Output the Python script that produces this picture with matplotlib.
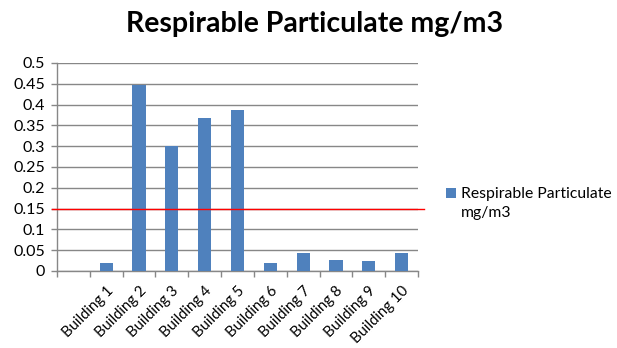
import matplotlib
matplotlib.use("Agg")
import matplotlib.pyplot as plt
from matplotlib.patches import Rectangle
import numpy as np

categories = ["", "Building 1", "Building 2", "Building 3", "Building 4", "Building 5",
              "Building 6", "Building 7", "Building 8", "Building 9", "Building 10"]
values = [np.nan, 0.020, 0.446, 0.301, 0.368, 0.387, 0.020, 0.043, 0.026, 0.023, 0.043]
threshold = 0.15
yticks = [0, 0.05, 0.1, 0.15, 0.2, 0.25, 0.3, 0.35, 0.4, 0.45, 0.5]
ytick_labels = ["0", "0.05", "0.1", "0.15", "0.2", "0.25", "0.3", "0.35", "0.4", "0.45", "0.5"]
title = "Respirable Particulate mg/m3"
series_label = "Respirable Particulate\nmg/m3"

plt.rcParams['font.family'] = ['Lato', 'DejaVu Sans']

W, H = 617, 348
fig = plt.figure(figsize=(W / 100, H / 100), dpi=100)
ax = fig.add_axes([57 / W, 1 - 271 / H, (418 - 57) / W, (271 - 63) / H])

bar_color = "#4F81BD"
grid_color = "#878787"
x = np.arange(len(categories))
ax.bar(x, values, width=0.4, color=bar_color, zorder=3)

ax.set_xlim(-0.5, len(categories) - 0.5)
ax.set_ylim(0, 0.5)
ax.set_yticks(yticks)
ax.set_yticklabels(ytick_labels, fontsize=11.5)
ax.yaxis.grid(True, color=grid_color, linewidth=1.0, zorder=0)
ax.set_axisbelow(True)

# category boundaries as major ticks, labels at centres via minor ticks
ax.set_xticks(np.arange(-0.5, len(categories), 1.0))
ax.set_xticklabels([])
ax.set_xticks(x, minor=True)
ax.set_xticklabels(categories, minor=True, rotation=45, ha="right",
                   rotation_mode="anchor", fontsize=10.7)
ax.tick_params(axis="x", which="minor", length=0, pad=9)
ax.tick_params(axis="x", which="major", length=4.5, color=grid_color, width=1.0)
ax.tick_params(axis="y", length=4.5, color=grid_color, width=1.0, pad=4)

for s in ["top", "right"]:
    ax.spines[s].set_visible(False)
for s in ["left", "bottom"]:
    ax.spines[s].set_color(grid_color)
    ax.spines[s].set_linewidth(1.0)

ax.plot([-5 / 361, 1 + 6 / 361], [threshold, threshold], color="#FF0000", linewidth=1.0,
        transform=ax.get_yaxis_transform(), clip_on=False, zorder=4)

fig.text(315 / W, 1 - 32 / H, title, ha="center", va="baseline", fontsize=20.5,
         fontweight="bold")

fig.patches.append(Rectangle((446 / W, 1 - 198 / H), 10 / W, 10 / H, transform=fig.transFigure,
                             facecolor=bar_color, edgecolor="none"))
for i, line in enumerate(series_label.split("\n")):
    fig.text(461 / W, 1 - (198 + 19 * i) / H, line, ha="left", va="baseline", fontsize=11.3)

fig.savefig("out.png", dpi=100)
